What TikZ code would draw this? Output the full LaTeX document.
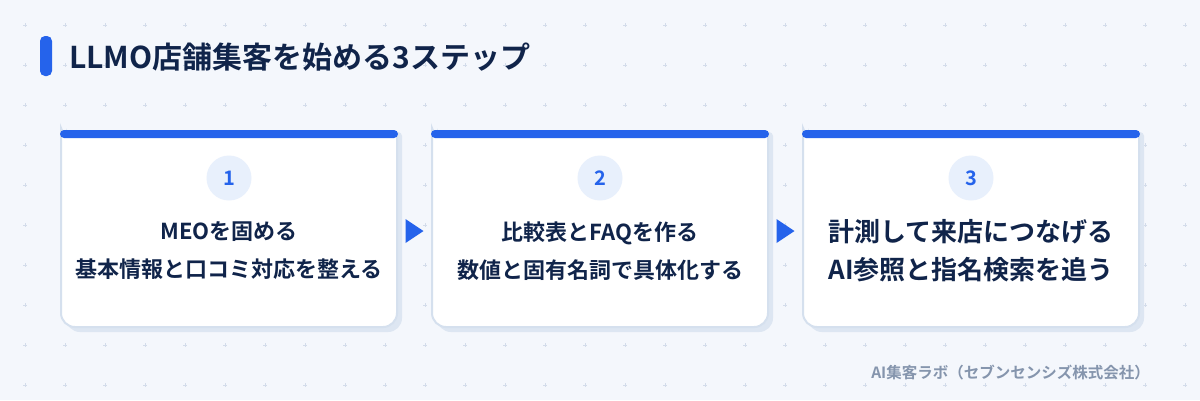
\documentclass[tikz,border=0pt]{standalone}
\usepackage{fontspec}
\setmainfont{Noto Sans CJK JP}[BoldFont={Noto Sans CJK JP Bold}]
\usetikzlibrary{calc}
\definecolor{bg}{HTML}{F4F7FC}
\definecolor{dotc}{HTML}{D3DCEA}
\definecolor{blue}{HTML}{2563EB}
\definecolor{navy}{HTML}{10244A}
\definecolor{cardline}{HTML}{D5E0EE}
\definecolor{shadow}{HTML}{DDE6F2}
\definecolor{circ}{HTML}{E8F0FC}
\definecolor{foot}{HTML}{8595AD}
\tikzset{
  numcirc/.style={circle,fill=circ,minimum size=45pt,inner sep=0pt,text=blue,font=\bfseries\fontsize{20}{20}\selectfont},
  smalltext/.style={text=navy,font=\bfseries\fontsize{22}{38}\selectfont,align=center},
  bigtext/.style={text=navy,font=\bfseries\fontsize{26}{38}\selectfont,align=center},
  cardanchor/.style={minimum width=336pt,minimum height=195pt,inner sep=0pt},
}
\begin{document}
\begin{tikzpicture}[x=1pt,y=-1pt]
\useasboundingbox (0,0) rectangle (1200,400);
\fill[bg] (0,0) rectangle (1200,400);
% dot grid
\foreach \i in {0,...,29}{\foreach \j in {0,...,9}{
  \draw[dotc,line width=0.9pt] ({25+40*\i-1.6},{25+40*\j}) -- ({25+40*\i+1.6},{25+40*\j})
        ({25+40*\i},{25+40*\j-1.6}) -- ({25+40*\i},{25+40*\j+1.6});
}}
% title
\fill[blue,rounded corners=5pt] (40,36) rectangle (52,76);
\node[anchor=west,text=navy,font=\bfseries\fontsize{30}{30}\selectfont,inner sep=0pt] (title) at (69,57) {LLMO店舗集客を始める3ステップ};
% cards
\foreach \cx/\nm in {229/c1,600/c2,971/c3}{
  % shadow
  \fill[shadow] ({\cx-168+5},132) [rounded corners=4pt] -- ({\cx+168+5},132) [rounded corners=14pt] -- ({\cx+168+5},{327+5}) -- ({\cx-168+5},{327+5}) [rounded corners=4pt] -- ({\cx-168+5},132) -- cycle;
  % card
  \filldraw[fill=white,draw=cardline,line width=2pt] ({\cx-168},132) [rounded corners=4pt] -- ({\cx+168},132) [rounded corners=14pt] -- ({\cx+168},327) -- ({\cx-168},327) [rounded corners=4pt] -- ({\cx-168},132) -- cycle;
  % top bar
  \fill[blue,rounded corners=4pt] ({\cx-169},130) rectangle ({\cx+169},138);
  \node[cardanchor] (\nm) at (\cx,229.5) {};
}
\node[numcirc] (n1) at (229,178) {1};
\node[numcirc] (n2) at (600,178) {2};
\node[numcirc] (n3) at (971,178) {3};
\node[smalltext] (t1) at (229,251) {MEOを固める\\基本情報と口コミ対応を整える};
\node[smalltext] (t2) at (600,251) {比較表とFAQを作る\\数値と固有名詞で具体化する};
\node[bigtext] (t3) at (971,251) {計測して来店につなげる\\AI参照と指名検索を追う};
% arrows between cards
\foreach \a/\b in {c1/c2,c2/c3}{
  \coordinate (m) at ($(\a.east)!0.5!(\b.west)$);
  \fill[blue] ($(m)+(-9,231-229.5-12)$) -- ($(m)+(9,231-229.5)$) -- ($(m)+(-9,231-229.5+12)$) -- cycle;
}
% footer
\node[anchor=east,text=foot,font=\bfseries\fontsize{15.5}{15.5}\selectfont,inner sep=0pt] (foot) at (1150,373) {AI集客ラボ（セブンセンシズ株式会社）};
\end{tikzpicture}
\end{document}
